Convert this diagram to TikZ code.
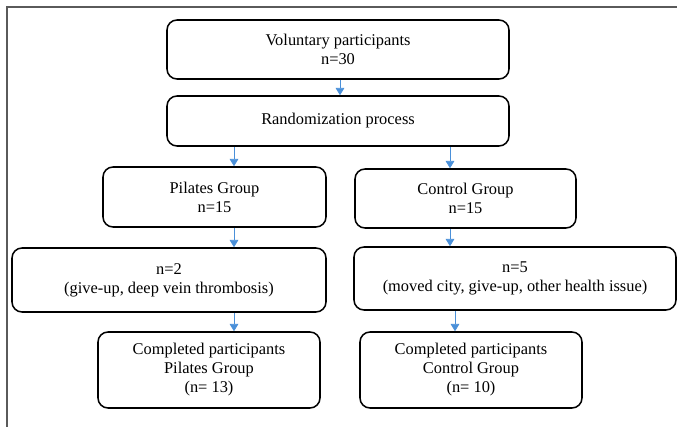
\documentclass[tikz,border=0pt]{standalone}
\usepackage{fontspec}
\setmainfont{Liberation Serif}
\usepackage{tikz}
\usetikzlibrary{shapes, calc, arrows.meta}

\definecolor{flowblue}{RGB}{74,144,217}
\definecolor{framegray}{RGB}{90,90,90}

\begin{document}
\begin{tikzpicture}[
    stage/.style={draw=black, line width=1.3pt, rounded corners=0.3cm,
        align=center, inner sep=0pt,
        font=\fontsize{14pt}{16.2pt}\selectfont},
    flow/.style={draw=flowblue, line width=0.6pt,
        -{Triangle[width=0.26cm,length=0.22cm]}}]
    \useasboundingbox (0,0) rectangle (20.31,-12.81);

    % frame
    \draw[framegray, line width=1pt] (0.21,-12.81) -- (0.21,-0.21) -- (20.31,-0.21);

    \node[stage, minimum width=10.26cm, minimum height=1.77cm] (vol) at (10.14,-1.485)
        {Voluntary participants\\n=30};
    \node[stage, minimum width=10.26cm, minimum height=1.5cm] (rand) at (10.14,-3.63)
        {Randomization process};

    \node[stage, minimum width=6.69cm, minimum height=1.8cm] (pil) at (6.435,-5.91)
        {Pilates Group\\n=15};
    \node[stage, minimum width=6.63cm, minimum height=1.77cm] (ctl) at (13.965,-5.955)
        {Control Group\\n=15};

    \node[stage, minimum width=9.42cm, minimum height=1.92cm] (pdrop) at (5.07,-8.4)
        {n=2\\(give-up, deep vein thrombosis)};
    \node[stage, minimum width=9.66cm, minimum height=1.89cm] (cdrop) at (15.45,-8.355)
        {n=5\\(moved city, give-up, other health issue)};

    \node[stage, minimum width=6.66cm, minimum height=2.28cm] (pdone) at (6.27,-11.1)
        {Completed participants\\Pilates Group\\(n= 13)};
    \node[stage, minimum width=6.66cm, minimum height=2.28cm] (cdone) at (14.13,-11.1)
        {Completed participants\\Control Group\\(n= 10)};

    % arrow columns
    \coordinate (mcol) at (10.2,0);
    \coordinate (pcol) at (7.02,0);
    \coordinate (ccol) at (13.5,0);
    \coordinate (dcol) at (13.65,0);

    \draw[flow] (vol.south -| mcol) -- (rand.north -| mcol);
    \draw[flow] (rand.south -| pcol) -- (pil.north -| pcol);
    \draw[flow] (rand.south -| ccol) -- (ctl.north -| ccol);
    \draw[flow] (pil.south -| pcol) -- (pdrop.north -| pcol);
    \draw[flow] (ctl.south -| ccol) -- (cdrop.north -| ccol);
    \draw[flow] (pdrop.south -| pcol) -- (pdone.north -| pcol);
    \draw[flow] (cdrop.south -| dcol) -- (cdone.north -| dcol);
\end{tikzpicture}
\end{document}
